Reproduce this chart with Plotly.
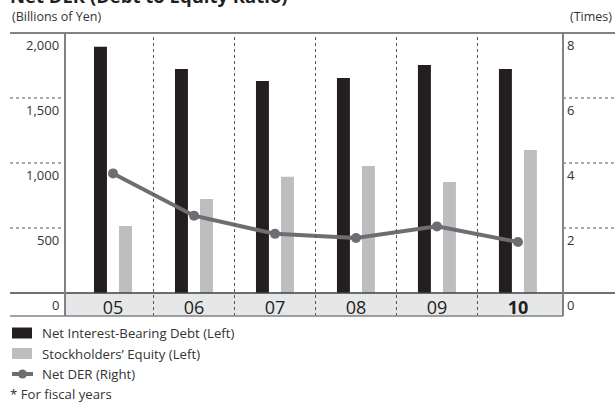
import plotly.graph_objects as go

# Fiscal years and values
years = ["05", "06", "07", "08", "09", "10"]
year_labels = ["05", "06", "07", "08", "09", "<b>10</b>"]
net_debt = [1895, 1723, 1631, 1654, 1754, 1723]      # billions of yen
equity = [515, 723, 895, 977, 854, 1100]             # billions of yen
net_der = [3.68, 2.38, 1.82, 1.69, 2.05, 1.57]       # times

left_ticks = [0, 500, 1000, 1500, 2000]
left_text = ["0", "500", "1,000", "1,500", "2,000"]
right_ticks = [0, 2, 4, 6, 8]
right_text = ["0", "2", "4", "6", "8"]

series_names = ["Net Interest-Bearing Debt (Left)",
                "Stockholders\u2019 Equity (Left)",
                "Net DER (Right)"]

FONT = "Open Sans"
DARK = "#231f20"
GREY_BAR = "#bcbec0"
LINE_GREY = "#6d6e71"
FRAME = "#808285"
TEXT = "#333333"

W, H = 615, 403
ML, MR, MT, MB = 65, 52, 33, 110
PW = W - ML - MR
PH = H - MT - MB


def px_x(p):
    return (p - ML) / PW


def px_y(p):
    return (H - MB - p) / PH


fig = go.Figure()

fig.add_trace(go.Bar(
    x=years, y=net_debt, name=series_names[0],
    marker=dict(color=DARK, line=dict(width=0)),
    offset=-0.235, width=0.16,
))
fig.add_trace(go.Bar(
    x=years, y=equity, name=series_names[1],
    marker=dict(color=GREY_BAR, line=dict(width=0)),
    offset=0.074, width=0.16,
))
fig.add_trace(go.Scatter(
    x=years, y=net_der, name=series_names[2], yaxis="y2",
    mode="lines+markers",
    line=dict(color=LINE_GREY, width=4),
    marker=dict(color=LINE_GREY, size=10),
))

shapes = []
band_bottom = px_y(316)

# category band under the zero line
shapes.append(dict(type="rect", xref="paper", yref="paper", x0=0, x1=1,
                   y0=band_bottom, y1=0, fillcolor="#e6e7e8",
                   line=dict(width=0), layer="below"))

# dotted dividers between years
for i in range(len(years) - 1):
    shapes.append(dict(type="line", xref="x", yref="paper", x0=i + 0.5, x1=i + 0.5,
                       y0=band_bottom, y1=1, line=dict(color="#555555", width=1, dash="dot")))

# dotted grid stubs outside the plot
for v in left_ticks[1:-1]:
    shapes.append(dict(type="line", xref="paper", yref="y", x0=px_x(10), x1=0,
                       y0=v, y1=v, line=dict(color="#555555", width=1, dash="dot")))
for v in right_ticks[1:-1]:
    shapes.append(dict(type="line", xref="paper", yref="y2", x0=1, x1=px_x(615),
                       y0=v, y1=v, line=dict(color="#555555", width=1, dash="dot")))

# frame lines
shapes.append(dict(type="line", xref="paper", yref="paper", x0=px_x(10), x1=px_x(615),
                   y0=1, y1=1, line=dict(color=FRAME, width=2)))
shapes.append(dict(type="line", xref="paper", yref="paper", x0=px_x(10), x1=px_x(615),
                   y0=0, y1=0, line=dict(color="#404040", width=1.5)))
shapes.append(dict(type="line", xref="paper", yref="paper", x0=px_x(10), x1=1,
                   y0=band_bottom, y1=band_bottom, line=dict(color=FRAME, width=1.5)))
for xp in (0, 1):
    shapes.append(dict(type="line", xref="paper", yref="paper", x0=xp, x1=xp,
                       y0=band_bottom, y1=1, line=dict(color=FRAME, width=2)))

# legend keys
key_rows = [333, 353.5, 374]
for row, color in zip(key_rows[:2], [DARK, GREY_BAR]):
    shapes.append(dict(type="rect", xref="paper", yref="paper",
                       x0=px_x(12), x1=px_x(32), y0=px_y(row - 5.5), y1=px_y(row + 5.5),
                       fillcolor=color, line=dict(width=0)))
shapes.append(dict(type="line", xref="paper", yref="paper",
                   x0=px_x(12), x1=px_x(33), y0=px_y(key_rows[2]), y1=px_y(key_rows[2]),
                   line=dict(color=LINE_GREY, width=4)))
shapes.append(dict(type="circle", xref="paper", yref="paper",
                   x0=px_x(18), x1=px_x(27), y0=px_y(key_rows[2] - 4.5), y1=px_y(key_rows[2] + 4.5),
                   fillcolor=LINE_GREY, line=dict(width=0)))

annotations = []
for v, t in zip(left_ticks, left_text):
    annotations.append(dict(xref="paper", yref="y", x=0, y=v, text=t, showarrow=False,
                            xanchor="right", yanchor="top", xshift=-4, yshift=-1,
                            font=dict(family=FONT, size=13, color=TEXT)))
for v, t in zip(right_ticks, right_text):
    annotations.append(dict(xref="paper", yref="y2", x=1, y=v, text=t, showarrow=False,
                            xanchor="left", yanchor="top", xshift=2, yshift=-1,
                            font=dict(family=FONT, size=13, color=TEXT)))

for row, name in zip(key_rows, series_names):
    annotations.append(dict(xref="paper", yref="paper", x=px_x(40), y=px_y(row), text=name,
                            showarrow=False, xanchor="left", yanchor="middle",
                            font=dict(family=FONT, size=13.2, color=TEXT)))

annotations += [
    dict(xref="paper", yref="paper", x=px_x(8), y=px_y(-5), text="<b>Net DER (Debt to Equity Ratio)</b>",
         showarrow=False, xanchor="left", yanchor="middle",
         font=dict(family=FONT, size=18.5, color=DARK)),
    dict(xref="paper", yref="paper", x=px_x(10), y=px_y(16.5), text="(Billions of Yen)",
         showarrow=False, xanchor="left", yanchor="middle",
         font=dict(family=FONT, size=12.5, color=TEXT)),
    dict(xref="paper", yref="paper", x=px_x(614), y=px_y(16.5), text="(Times)",
         showarrow=False, xanchor="right", yanchor="middle",
         font=dict(family=FONT, size=12.5, color=TEXT)),
    dict(xref="paper", yref="paper", x=px_x(8), y=px_y(394), text="* For fiscal years",
         showarrow=False, xanchor="left", yanchor="middle",
         font=dict(family=FONT, size=13.2, color=TEXT)),
]

fig.update_layout(
    width=W, height=H,
    margin=dict(l=ML, r=MR, t=MT, b=MB, autoexpand=False),
    paper_bgcolor="white", plot_bgcolor="white",
    barmode="overlay",
    showlegend=False,
    xaxis=dict(range=[-0.593, 5.556], tickmode="array", tickvals=years, ticktext=year_labels,
               showgrid=False, zeroline=False, showline=False, ticks="",
               ticklabelstandoff=2,
               tickfont=dict(family=FONT, size=18, color=DARK), fixedrange=True),
    yaxis=dict(range=[0, 2000], showgrid=False, zeroline=False, showline=False,
               showticklabels=False, ticks=""),
    yaxis2=dict(range=[0, 8], overlaying="y", side="right", showgrid=False,
                zeroline=False, showline=False, showticklabels=False, ticks=""),
    shapes=shapes,
    annotations=annotations,
    font=dict(family=FONT),
)

fig.write_html("out.html")
